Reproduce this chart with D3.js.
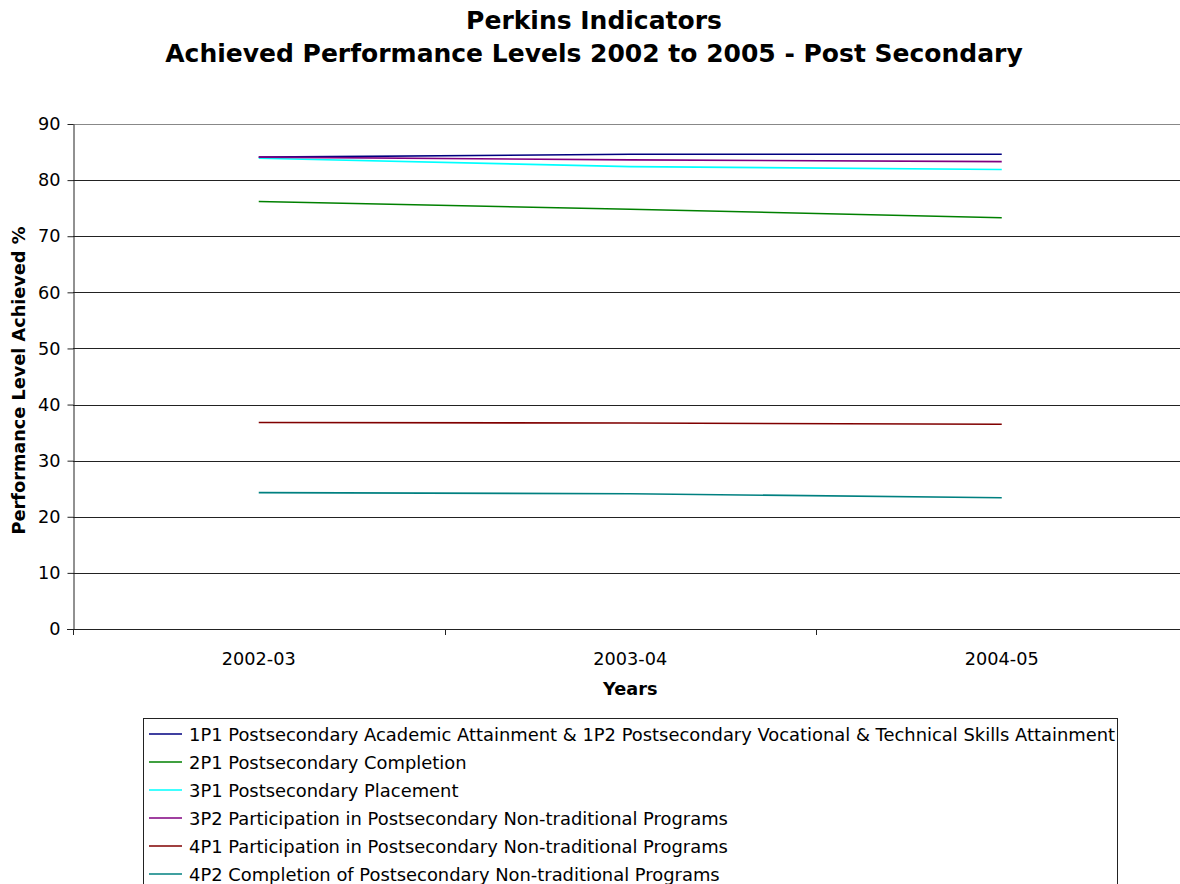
<!DOCTYPE html>
<html><head><meta charset="utf-8">
<script src="https://cdn.jsdelivr.net/npm/d3@7"></script>
<style>
html,body{margin:0;padding:0;background:#fff;}
text{font-family:Verdana,"DejaVu Sans",sans-serif;fill:#000;}
</style></head>
<body>
<svg id="chart" width="1180" height="884"></svg>
<script>
const categories = ["2002-03", "2003-04", "2004-05"];
const seriesNames = [
  "1P1 Postsecondary Academic Attainment & 1P2 Postsecondary Vocational & Technical Skills Attainment",
  "2P1 Postsecondary Completion",
  "3P1 Postsecondary Placement",
  "3P2 Participation in Postsecondary Non-traditional Programs",
  "4P1 Participation in Postsecondary Non-traditional Programs",
  "4P2 Completion of Postsecondary Non-traditional Programs"
];
const s1P1 = [84.1, 84.6, 84.6];
const s2P1 = [76.2, 74.8, 73.3];
const s3P1 = [83.9, 82.4, 81.9];
const s3P2 = [84.1, 83.6, 83.3];
const s4P1 = [36.8, 36.7, 36.5];
const s4P2 = [24.3, 24.1, 23.4];
const seriesValues = [s1P1, s2P1, s3P1, s3P2, s4P1, s4P2];
const colors = ["#000080", "#008000", "#00FFFF", "#800080", "#800000", "#008080"];
const yTicks = [0, 10, 20, 30, 40, 50, 60, 70, 80, 90];

(function () {
const svg = d3.select("#chart");
const pL = 73, pR = 1187.5, pT = 124, pB = 629;
const FS = 17.7;

const x = d3.scaleBand().domain(categories).range([pL, pR]).padding(0);
const y = d3.scaleLinear().domain([0, 90]).range([pB, pT]);

// title
svg.append("text").attr("x", 594).attr("y", 29).attr("text-anchor", "middle")
  .attr("font-size", 25).attr("font-weight", "bold").text("Perkins Indicators");
svg.append("text").attr("x", 594).attr("y", 62).attr("text-anchor", "middle")
  .attr("font-size", 25).attr("font-weight", "bold").text("Achieved Performance Levels 2002 to 2005 - Post Secondary");

// gridlines
svg.append("g").selectAll("line").data(yTicks.filter(d => d > 0)).join("line")
  .attr("x1", pL).attr("x2", 1180)
  .attr("y1", d => Math.round(y(d)) + 0.5).attr("y2", d => Math.round(y(d)) + 0.5)
  .attr("stroke", d => d === 90 ? "#888" : "#222").attr("stroke-width", 1);

// y axis
const yAxis = svg.append("g").attr("transform", `translate(${pL + 0.5},0)`)
  .call(d3.axisLeft(y).tickValues(yTicks).tickSize(6).tickSizeOuter(0).tickPadding(7));
yAxis.select(".domain").attr("stroke", "#222");
yAxis.selectAll(".tick line").attr("stroke", "#222");
yAxis.selectAll("text").attr("font-size", FS).attr("font-family", "Verdana, 'DejaVu Sans', sans-serif");

// x axis
const xAxis = svg.append("g").attr("transform", `translate(0,${Math.round(pB) + 0.5})`)
  .call(d3.axisBottom(x).tickSize(0).tickPadding(23));
xAxis.select(".domain").attr("stroke", "#222").attr("d", `M${pL - 6},0H1180`);
xAxis.selectAll("text").attr("font-size", FS).attr("font-family", "Verdana, 'DejaVu Sans', sans-serif");
const bounds = categories.map(c => x(c)).concat([x(categories[categories.length - 1]) + x.bandwidth()]);
svg.append("g").selectAll("line").data(bounds).join("line")
  .attr("x1", d => Math.round(d) + 0.5).attr("x2", d => Math.round(d) + 0.5)
  .attr("y1", pB).attr("y2", pB + 6).attr("stroke", "#222");

// axis titles
svg.append("text").attr("x", (pL + pR) / 2).attr("y", 695).attr("text-anchor", "middle")
  .attr("font-size", FS).attr("font-weight", "bold").text("Years");
svg.append("text").attr("transform", `translate(25,${(pT + pB) / 2 + 4}) rotate(-90)`).attr("text-anchor", "middle")
  .attr("font-size", FS).attr("font-weight", "bold").text("Performance Level Achieved %");

// lines
const line = d3.line().x((d, i) => x(categories[i]) + x.bandwidth() / 2).y(d => y(d));
svg.append("g").selectAll("path").data(seriesValues).join("path")
  .attr("d", line).attr("fill", "none")
  .attr("stroke", (d, i) => colors[i]).attr("stroke-width", 1.6);

// legend
const lg = svg.append("g");
lg.append("rect").attr("x", 143.5).attr("y", 718.5).attr("width", 974).attr("height", 180)
  .attr("fill", "#fff").attr("stroke", "#222");
const items = lg.selectAll("g.item").data(seriesNames).join("g")
  .attr("transform", (d, i) => `translate(0,${734 + i * 28})`);
items.append("line").attr("x1", 149).attr("x2", 182).attr("y1", 0).attr("y2", 0)
  .attr("stroke", (d, i) => colors[i]).attr("stroke-width", 1.6);
items.append("text").attr("x", 189).attr("y", 0).attr("dy", "0.4em")
  .attr("font-size", 17.9).text(d => d);
})();
</script>
</body></html>
